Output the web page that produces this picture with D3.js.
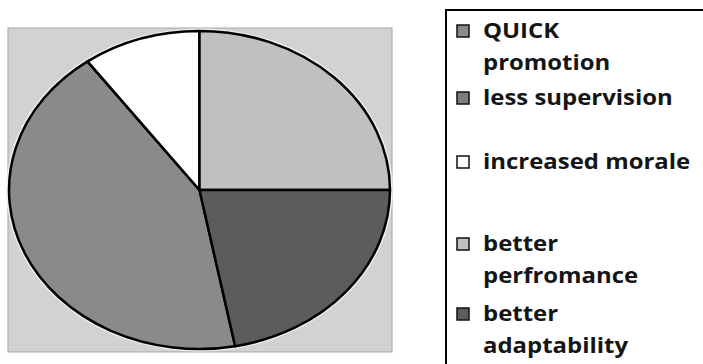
<!DOCTYPE html>
<html>
<head>
<meta charset="utf-8">
<script src="https://cdn.jsdelivr.net/npm/d3@7"></script>
<style>
  html, body { margin: 0; padding: 0; background: #ffffff; }
  svg { display: block; }
</style>
</head>
<body>
<svg id="chart" width="703" height="364"></svg>
<script>
// Categories (legend order) and their shares in percent
const categories = [
  "QUICK\npromotion",
  "less supervision",
  "increased morale",
  "better\nperfromance",
  "better\nadaptability"
];
const values = [43, 0, 10, 25, 22];
const fills = ["#8a8a8a", "#7e7e7e", "#ffffff", "#c0c0c0", "#5c5c5c"];

// Angle of the first slice, degrees clockwise from 12 o'clock
const firstSliceAngle = 169.2;

const svg = d3.select("#chart");
const W = 703, H = 364;

// Plot area
const plot = { x: 8, y: 28, w: 384, h: 324 };
svg.append("rect")
  .attr("x", plot.x).attr("y", plot.y)
  .attr("width", plot.w).attr("height", plot.h)
  .attr("fill", "#d2d2d2")
  .attr("stroke", "#a8a8a8").attr("stroke-width", 1);

// Pie drawn as a circle then squashed into an ellipse
const cx = 199.5, cy = 190, rx = 190.5, ry = 159;
const start = firstSliceAngle * Math.PI / 180;
const pie = d3.pie().sort(null).value(d => d).startAngle(start).endAngle(start + 2 * Math.PI);
const arc = d3.arc().innerRadius(0).outerRadius(rx);

const g = svg.append("g")
  .attr("transform", `translate(${cx},${cy}) scale(1,${ry / rx})`);

// faint halo around the rim
g.append("circle")
  .attr("r", rx + 1.5)
  .attr("fill", "none")
  .attr("stroke", "#eeeeee")
  .attr("stroke-width", 2.5)
  .attr("vector-effect", "non-scaling-stroke");

g.selectAll("path.slice")
  .data(pie(values))
  .join("path")
  .attr("class", "slice")
  .attr("d", arc)
  .attr("fill", (d, i) => fills[i])
  .attr("stroke", "#000")
  .attr("stroke-width", 2.5)
  .attr("stroke-linejoin", "round")
  .attr("vector-effect", "non-scaling-stroke");

// Legend box (runs off the right and bottom edges)
const lg = { x: 446, y: 10 };
svg.append("rect")
  .attr("x", lg.x).attr("y", lg.y)
  .attr("width", W - lg.x + 20).attr("height", H - lg.y + 20)
  .attr("fill", "#ffffff")
  .attr("stroke", "#000").attr("stroke-width", 2);

const entryBaselines = [38, 105, 169, 251, 321];
const lineGap = 32;
const swatchX = 457, textX = 483, swatchSize = 12;
const textStretch = 1.14;

const entries = svg.append("g")
  .attr("font-family", "'Open Sans', 'Noto Sans', sans-serif")
  .attr("font-weight", 700)
  .attr("font-size", 21)
  .attr("fill", "#151515");

categories.forEach((name, i) => {
  const by = entryBaselines[i];
  entries.append("rect")
    .attr("x", swatchX).attr("y", by - 1 - swatchSize)
    .attr("width", swatchSize).attr("height", swatchSize)
    .attr("fill", fills[i])
    .attr("stroke", "#111").attr("stroke-width", 1.5);
  const t = entries.append("text")
    .attr("transform", `translate(${textX},${by}) scale(${textStretch},1)`);
  name.split("\n").forEach((line, j) => {
    t.append("tspan")
      .attr("x", 0)
      .attr("y", j * lineGap)
      .text(line);
  });
});
</script>
</body>
</html>
